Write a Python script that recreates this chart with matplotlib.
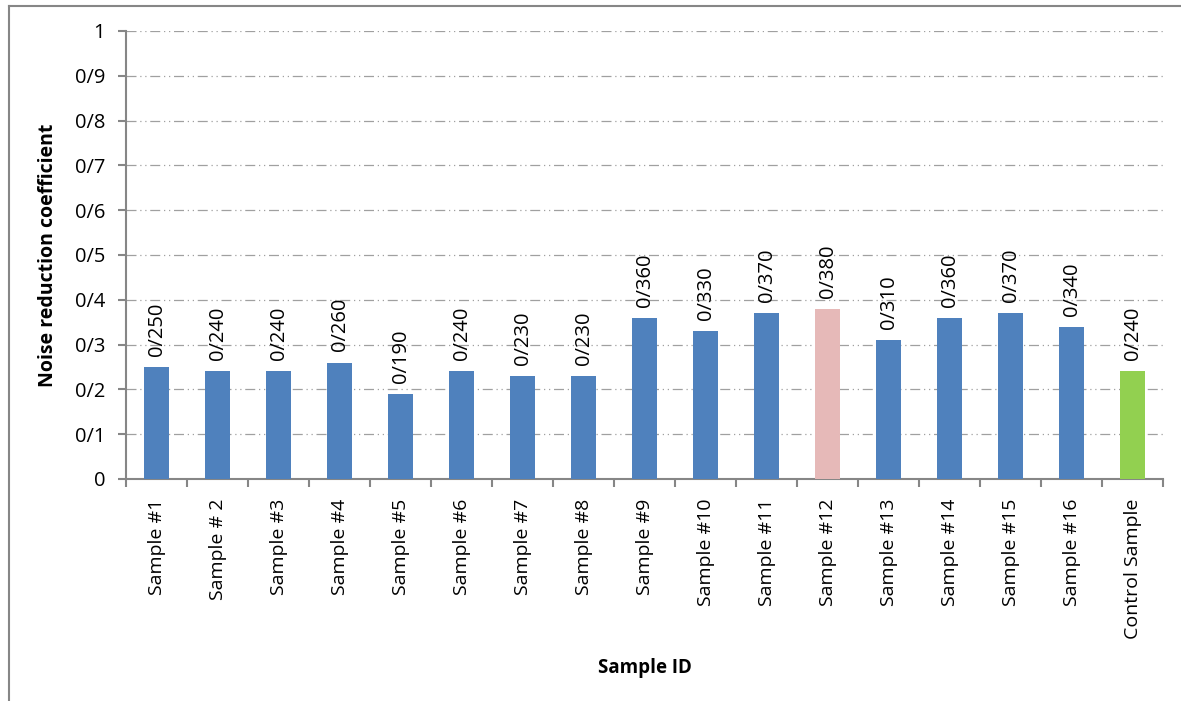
import matplotlib
matplotlib.use("Agg")
import matplotlib.pyplot as plt
from matplotlib.lines import Line2D

categories = ["Sample #1", "Sample # 2", "Sample #3", "Sample #4", "Sample #5",
              "Sample #6", "Sample #7", "Sample #8", "Sample #9", "Sample #10",
              "Sample #11", "Sample #12", "Sample #13", "Sample #14", "Sample #15",
              "Sample #16", "Control Sample"]
values = [0.25, 0.24, 0.24, 0.26, 0.19, 0.24, 0.23, 0.23, 0.36, 0.33,
          0.37, 0.38, 0.31, 0.36, 0.37, 0.34, 0.24]
bar_colors = ["#4F81BD"] * 11 + ["#E6B9B8"] + ["#4F81BD"] * 4 + ["#92D050"]
y_ticks = [0, 0.1, 0.2, 0.3, 0.4, 0.5, 0.6, 0.7, 0.8, 0.9, 1.0]
y_tick_labels = ["0", "0/1", "0/2", "0/3", "0/4", "0/5", "0/6", "0/7", "0/8", "0/9", "1"]


def slash_decimal(v):
    return "0/" + f"{v:.3f}".split(".")[1]


plt.rcParams["font.family"] = ["Open Sans", "DejaVu Sans"]

fig = plt.figure(figsize=(11.81, 7.01), dpi=100)
ax = fig.add_axes([0.1067, 0.3167, 0.8781, 0.6391])

x = list(range(len(categories)))
bars = ax.bar(x, values, width=0.4, color=bar_colors, zorder=3)

for xi, v in zip(x, values):
    ax.annotate(slash_decimal(v), xy=(xi, v), xytext=(0, 8), textcoords="offset points",
                rotation=90, ha="center", va="bottom", fontsize=14.5, color="black")

ax.set_xlim(-0.5, len(categories) - 0.5)
ax.set_ylim(0, 1)
ax.set_yticks(y_ticks)
ax.set_yticklabels(y_tick_labels, fontsize=14.5)

ax.set_xticks(x)
ax.set_xticklabels(categories, rotation=90, fontsize=14)
ax.tick_params(axis="x", which="major", length=0, pad=14)
ax.set_xticks([i - 0.5 for i in range(len(categories) + 1)], minor=True)
ax.tick_params(axis="x", which="minor", length=6, width=1.5, color="#868686")
ax.tick_params(axis="y", length=6, width=1.5, color="#868686", pad=9)

ax.grid(axis="y", color="#A0A0A0", linestyle=(0, (8, 3, 1, 3, 1, 3)), linewidth=0.9, zorder=0)
for s in ("top", "right"):
    ax.spines[s].set_visible(False)
for s in ("left", "bottom"):
    ax.spines[s].set_color("#868686")
    ax.spines[s].set_linewidth(1.5)

ax.set_ylabel("Noise reduction coefficient", fontsize=14, fontweight="bold", labelpad=12)
ax.set_xlabel("Sample ID", fontsize=13.5, fontweight="bold", labelpad=14)

# outer chart frame (left and top edges)
fig.add_artist(Line2D([9 / 1181, 9 / 1181], [0, 1 - 6 / 701], transform=fig.transFigure,
                      color="#868686", linewidth=1.5))
fig.add_artist(Line2D([9 / 1181, 1], [1 - 6 / 701, 1 - 6 / 701], transform=fig.transFigure,
                      color="#868686", linewidth=1.5))

fig.savefig("out.png", dpi=100, facecolor="white")
